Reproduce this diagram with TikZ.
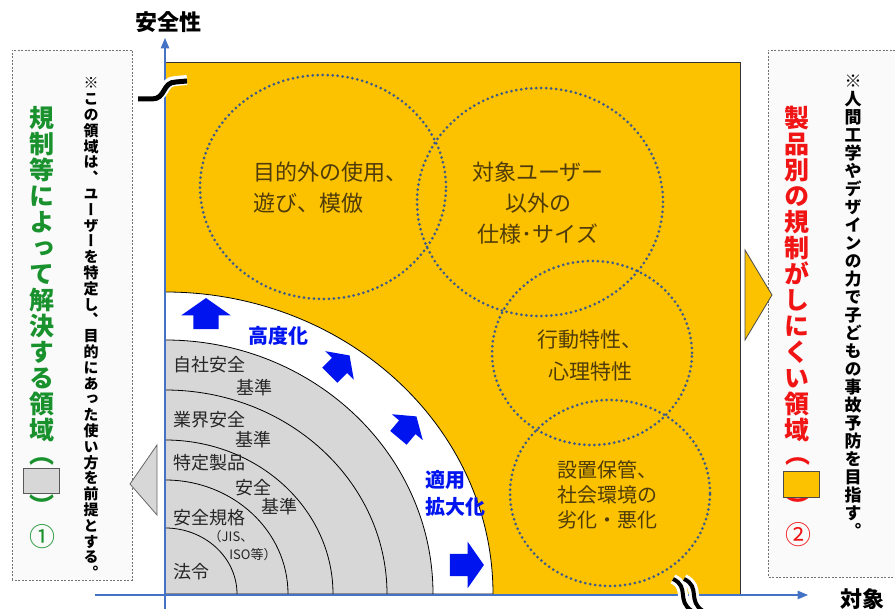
\documentclass[tikz,border=0pt]{standalone}
\usepackage{fontspec}
\setmainfont{Noto Sans CJK JP}
\newfontfamily\tatefont[RawFeature=+vert]{Noto Sans CJK JP}
\usetikzlibrary{arrows,shapes.arrows}

\definecolor{gold}{RGB}{252,194,0}
\definecolor{axisblue}{RGB}{68,114,196}
\definecolor{dotblue}{RGB}{60,90,140}
\definecolor{pushblue}{RGB}{0,20,240}
\definecolor{rulegreen}{RGB}{25,145,45}
\definecolor{rulered}{RGB}{240,20,20}
\definecolor{lawgray}{RGB}{215,215,215}
\definecolor{inktext}{RGB}{80,60,10}
\definecolor{boxfill}{RGB}{250,250,250}

\makeatletter
\newcommand\tate[2]{\vbox{\tatefont\baselineskip=#1\lineskiplimit=-\maxdimen\lineskip=0pt
  \@tfor\tchar:=#2\do{\hbox to 1em{\hss\vrule height .88em depth .12em width 0pt\tchar\hss}}}}
\makeatother

\begin{document}
\begin{tikzpicture}[x=1pt,y=1pt,>=triangle 45]
\tikzstyle{axisline} = [draw=axisblue, line width=1.4pt];
\tikzstyle{axislabel} = [font=\fontsize{22}{24}\selectfont\bfseries, inner sep=0pt];
\tikzstyle{notebox} = [draw=black!55, dash pattern=on 2pt off 1.5pt, line width=0.8pt];
\tikzstyle{ringline} = [draw=black, line width=0.8pt];
\tikzstyle{dotring} = [draw=dotblue, line width=3pt, line cap=round, dash pattern=on 0pt off 5pt];
\tikzstyle{ringtext} = [text=inktext, font=\fontsize{22}{31}\selectfont, inner sep=0pt];
\tikzstyle{lawtext} = [text=black!85, font=\fontsize{18}{20}\selectfont, inner sep=0pt];
\tikzstyle{pushtext} = [text=pushblue, font=\fontsize{20}{27}\selectfont\bfseries, inner sep=0pt];
\tikzstyle{pusharrow} = [single arrow, fill=pushblue, inner xsep=0pt, single arrow tip angle=110, single arrow head indent=0pt];
\tikzstyle{tatetext} = [anchor=north, inner sep=0pt];
\tikzstyle{parens} = [inner sep=0pt];
\tikzstyle{breakgap} = [line width=10pt, white];
\tikzstyle{breakmark} = [line width=5pt, black];
\useasboundingbox (0,0) rectangle (895,609);

\draw[notebox, fill=boxfill] (12,29) rectangle (132,559);
\fill[boxfill] (768,32) rectangle (895,559);
\draw[notebox] (895,559) -- (768,559) -- (768,32) -- (895,32);

\draw[fill=gold, draw=black!80, line width=0.8pt] (165,15) rectangle (740,547);
\coordinate (o) at (165,15);
\draw[ringline, fill=white] (o) -- (493,15) arc[start angle=0, end angle=90, x radius=328, y radius=302] -- cycle;
\draw[ringline, fill=lawgray] (o) -- (433,15) arc[start angle=0, end angle=90, x radius=268, y radius=254] -- cycle;
\foreach \rx/\ry in {222/204, 168/154, 123/114, 72/66}
  \draw[ringline] (165+\rx,15) arc[start angle=0, end angle=90, x radius=\rx, y radius=\ry];

\draw[dotring] (323,422) ellipse [x radius=123, y radius=112];
\draw[dotring] (540,407) ellipse [x radius=123, y radius=114];
\draw[dotring] (592,256) ellipse [x radius=100, y radius=92];
\draw[dotring] (610,116) ellipse [x radius=100, y radius=93];

\node[ringtext, align=left, anchor=west] (misuse) at (253,421.5) {目的外の使用、\\遊び、模倣};
\node[ringtext, align=center] (users) at (538,406) {対象ユーザー\\以外の\\仕様･サイズ};
\node[ringtext, align=center, font=\fontsize{21}{32}\selectfont] (behave) at (590,253) {行動特性、\\心理特性};
\node[ringtext, align=left, anchor=west, font=\fontsize{20}{25}\selectfont] (decay) at (557,114) {設置保管、\\社会環境の\\劣化・悪化};

\node[lawtext, anchor=west] (own) at (173,244) {自社安全};
\node[lawtext] (own2) at (254,221) {基準};
\node[lawtext, anchor=west] (ind) at (173,189) {業界安全};
\node[lawtext] (ind2) at (253,169) {基準};
\node[lawtext, anchor=west] (spec) at (173,146) {特定製品};
\node[lawtext] (spec2) at (253,121) {安全};
\node[lawtext] (spec3) at (279,102) {基準};
\node[lawtext, anchor=west] (std) at (173,91) {安全規格};
\node[lawtext, font=\fontsize{13}{15}\selectfont] (std2) at (231,72) {（JIS、};
\node[lawtext, font=\fontsize{13}{15}\selectfont] (std3) at (253,54) {ISO等）};
\node[lawtext, anchor=west] (law) at (173,37) {法令};

\node[pushtext] (adv) at (278,273) {高度化};
\node[pushtext, align=left, anchor=west] (wide) at (425,115.5) {適用\\拡大化};
\node[pusharrow, rotate=90, minimum height=31pt, inner ysep=12.5pt, single arrow head extend=12pt] (up1) at (206,291) {};
\node[pusharrow, rotate=45, minimum height=28pt, inner ysep=10.5pt, single arrow head extend=9.5pt] (up2) at (337,241) {};
\node[pusharrow, rotate=50, minimum height=28pt, inner ysep=10.5pt, single arrow head extend=9.5pt] (up3) at (405,179) {};
\node[pusharrow, minimum height=34pt, inner ysep=11pt, single arrow head extend=12pt] (up4) at (463,44) {};

\draw[fill=lawgray, draw=black!60, line width=0.8pt] (157,164) -- (157,94) -- (130,125) -- cycle;
\draw[fill=gold, draw=black!70, line width=0.8pt] (745,359) -- (745,269) -- (772,314) -- cycle;

\node[tatetext, text=rulegreen, font=\fontsize{25}{26}\selectfont\bfseries] (solved) at (42,503.5) {\tate{26pt}{規制等によって解決する領域}};
\node[tatetext, font=\fontsize{15}{16}\selectfont\bfseries] (solvednote) at (91,533.5) {\tate{15.8pt}{※この領域は、ユーザーを特定し、目的にあった使い方を前提とする。}};
\node[parens, text=rulegreen, font=\fontsize{25}{26}\selectfont\bfseries\tatefont] (lpa) at (42,147) {（};
\node[parens, text=rulegreen, font=\fontsize{25}{26}\selectfont\bfseries\tatefont] (rpa) at (42,104) {）};
\draw[fill=lawgray, draw=black!65, line width=0.8pt] (23,116) rectangle (59,141);
\node[parens, text=rulegreen, font=\fontsize{26}{28}\selectfont] (one) at (42,72) {①};

\node[tatetext, text=rulered, font=\fontsize{25}{26}\selectfont\bfseries] (hard) at (797,503.5) {\tate{26pt}{製品別の規制がしにくい領域}};
\node[tatetext, font=\fontsize{17}{18}\selectfont\bfseries] (hardnote) at (853,536.5) {\tate{18pt}{※人間工学やデザインの力で子どもの事故予防を目指す。}};
\node[parens, text=rulered, font=\fontsize{25}{26}\selectfont\bfseries\tatefont] (lpb) at (798,147) {（};
\node[parens, text=rulered, font=\fontsize{25}{26}\selectfont\bfseries\tatefont] (rpb) at (798,104) {）};
\draw[fill=gold, draw=black!70, line width=0.8pt] (783,112) rectangle (819,138);
\node[parens, text=rulered, font=\fontsize{26}{28}\selectfont] (two) at (798,74) {②};

\coordinate (yfoot) at (165,0);
\coordinate (ytip) at (165,571);
\coordinate (xfoot) at (95,14);
\coordinate (xtip) at (808,14);
\draw[axisline, ->] (yfoot) -- (ytip);
\draw[axisline, ->] (xfoot) -- (xtip);
\node[axislabel] (safety) at (168,587) {安全性};
\node[axislabel] (target) at (862,10) {対象};

\draw[breakgap] (138,511) -- (152,511) .. controls (166,511) and (162,528) .. (176,528) -- (187,529);
\draw[breakmark] (138,510) -- (152,510) .. controls (166,510) and (162,527) .. (176,527) -- (187,528);
\foreach \dx in {0,11}
  \draw[breakgap] (673+\dx,30) .. controls (690+\dx,22) and (676+\dx,8) .. (692+\dx,-2);
\foreach \dx in {0,11}
  \draw[breakmark, line width=4pt] (673+\dx,30) .. controls (690+\dx,22) and (676+\dx,8) .. (692+\dx,-2);
\end{tikzpicture}
\end{document}
